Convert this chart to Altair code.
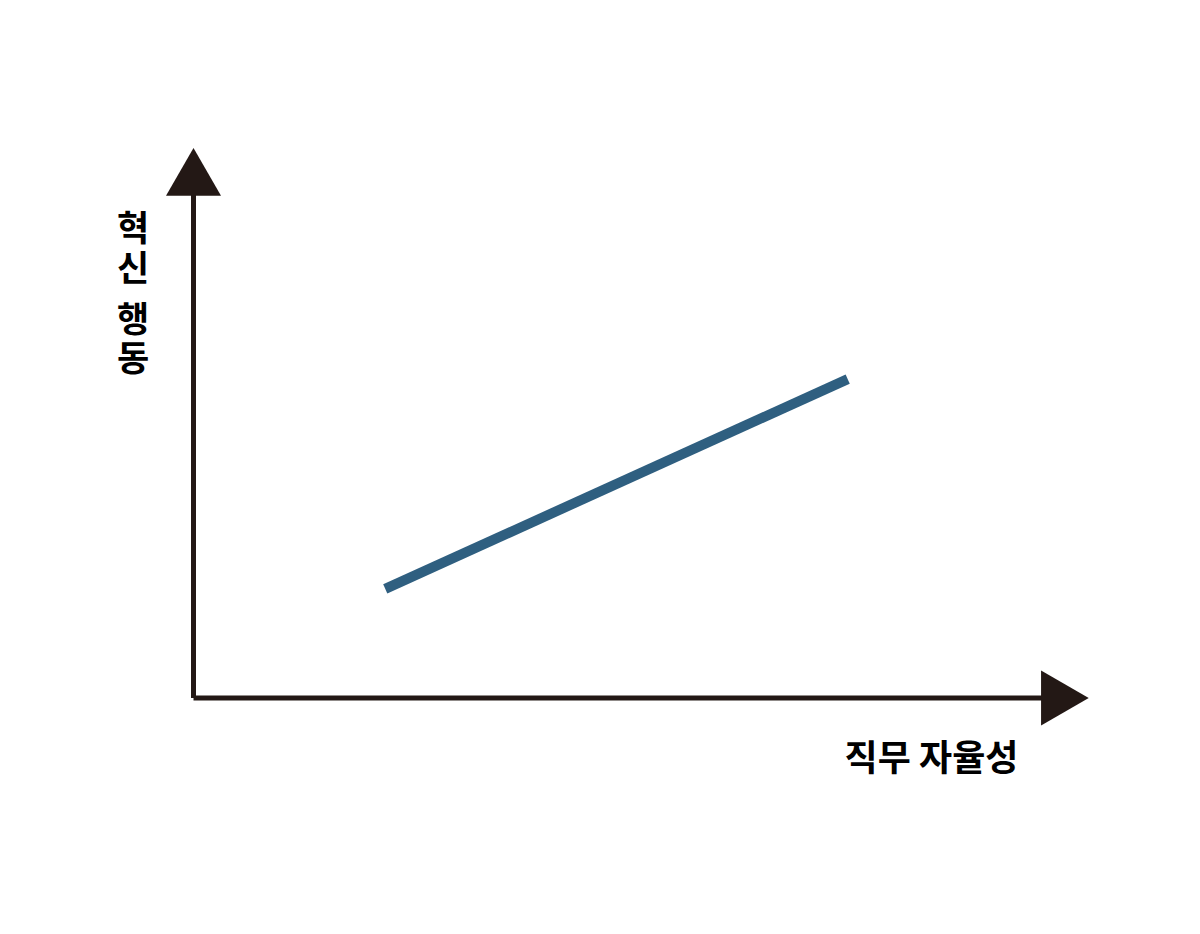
import altair as alt
import pandas as pd

# Data (in abstract axis units: origin = 0, axis end = 10)
line_x = [2.26, 7.71]
line_y = [2.17, 6.34]

axis_x_start = [0.0]
axis_x_end = [10.0]
axis_y_start = [0.0]
axis_y_end = [10.0]

arrow_x = [0.0, 10.27]
arrow_y = [10.46, 0.0]
arrow_shape = ["triangle-up", "triangle-right"]

x_title = "직무 자율성"
y_title_chars = ["혁", "신", "행", "동"]
y_title_pos = [222, 262, 313, 352]

AXIS_COLOR = "#231815"
LINE_COLOR = "#2f5f80"
FONT = "Noto Sans CJK KR"

xs = alt.Scale(domain=[0, 10], range=[185.5, 1034])
ys = alt.Scale(domain=[0, 10], range=[690, 187])

line_df = pd.DataFrame({"x": line_x, "y": line_y})
arrow_df = pd.DataFrame({"x": arrow_x, "y": arrow_y, "shape": arrow_shape})
hax_df = pd.DataFrame({"x": axis_x_start, "x2": axis_x_end, "y": [0.0]})
vax_df = pd.DataFrame({"x": [0.0], "y": axis_y_start, "y2": axis_y_end})

X = lambda f: alt.X(f, type="quantitative", scale=xs, axis=None)
Y = lambda f: alt.Y(f, type="quantitative", scale=ys, axis=None)

hax = alt.Chart(hax_df).mark_rule(color=AXIS_COLOR, strokeWidth=5).encode(
    x=X("x"), x2="x2", y=Y("y")
)
vax = alt.Chart(vax_df).mark_rule(color=AXIS_COLOR, strokeWidth=5).encode(
    x=X("x"), y=Y("y"), y2="y2"
)
arrows = alt.Chart(arrow_df).mark_point(
    filled=True, size=3025, opacity=1, color=AXIS_COLOR, strokeWidth=0
).encode(
    x=X("x"), y=Y("y"),
    shape=alt.Shape("shape:N", scale=None, legend=None),
)
line = alt.Chart(line_df).mark_line(
    color=LINE_COLOR, strokeWidth=10, strokeCap="butt"
).encode(x=X("x"), y=Y("y"))

xlabel = alt.Chart(pd.DataFrame({"t": [x_title]})).mark_text(
    font=FONT, fontSize=36, fontWeight="bold", color="#000000",
    align="center", baseline="middle"
).encode(text="t:N", x=alt.value(923.5), y=alt.value(752))

ylab_df = pd.DataFrame({"t": y_title_chars, "py": y_title_pos})
ylabel = alt.Chart(ylab_df).mark_text(
    font=FONT, fontSize=35, fontWeight="bold", color="#000000",
    align="center", baseline="middle"
).encode(
    text="t:N", x=alt.value(125),
    y=alt.Y("py:Q", scale=alt.Scale(domain=[0, 918], range=[0, 918]), axis=None),
)

chart = alt.layer(hax, vax, arrows, line, xlabel, ylabel).resolve_scale(
    y="independent"
).properties(
    width=1184, height=918,
    autosize=alt.AutoSizeParams(type="none"),
    padding=0,
    background="white",
).configure_view(stroke=None)

chart.save("out.html", embed_options={"renderer": "svg", "actions": False})
